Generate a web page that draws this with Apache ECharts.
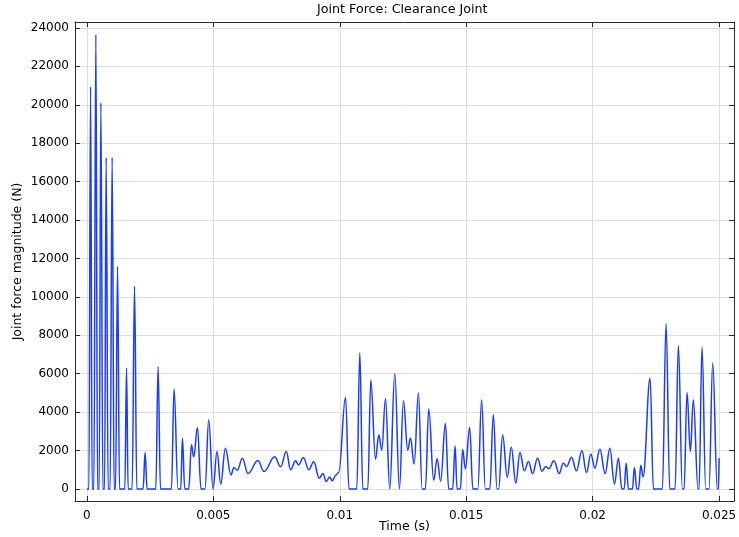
<!DOCTYPE html>
<html>
<head>
<meta charset="utf-8">
<script src="https://cdn.jsdelivr.net/npm/echarts@6/dist/echarts.min.js"></script>
<style>
  html, body { margin: 0; padding: 0; background: #fff; }
  #chart { width: 739px; height: 537px; }
</style>
</head>
<body>
<div id="chart"></div>
<script>
// time (s) of each read-off point
const timeS = [
  0, 0.000079, 0.000146, 0.000209, 0.000276, 0.000355, 0.000423, 0.000486, 0.000553, 0.000632,
  0.000699, 0.000762, 0.000841, 0.000920, 0.000999, 0.001078, 0.001133, 0.001212, 0.001291, 0.001501,
  0.001568, 0.001631, 0.001789, 0.001884, 0.001975, 0.002223, 0.002302, 0.002381, 0.002725, 0.002816,
  0.002910, 0.003345, 0.003447, 0.003605, 0.003712, 0.003779, 0.003870, 0.004028, 0.004135, 0.004225,
  0.004372, 0.004514, 0.004672, 0.004818, 0.004988, 0.005146, 0.005292, 0.005477, 0.005698, 0.005817,
  0.005951, 0.006149, 0.006370, 0.006765, 0.007002, 0.007424, 0.007661, 0.007886, 0.008056, 0.008253,
  0.008372, 0.008561, 0.008775, 0.008972, 0.009189, 0.009332, 0.009466, 0.009596, 0.009703, 0.009853,
  0.009959, 0.010228, 0.010366, 0.010674, 0.010793, 0.010911, 0.011109, 0.011227, 0.011413, 0.011543,
  0.011661, 0.011808, 0.011977, 0.012175, 0.012360, 0.012518, 0.012688, 0.012795, 0.012941, 0.013111,
  0.013257, 0.013387, 0.013517, 0.013715, 0.013849, 0.013991, 0.014177, 0.014307, 0.014465, 0.014560,
  0.014639, 0.014769, 0.014860, 0.014967, 0.015137, 0.015263, 0.015460, 0.015610, 0.015756, 0.015934,
  0.016072, 0.016219, 0.016282, 0.016440, 0.016625, 0.016783, 0.016961, 0.017127, 0.017297, 0.017466,
  0.017624, 0.017822, 0.017996, 0.018146, 0.018264, 0.018473, 0.018679, 0.018837, 0.018975, 0.019161,
  0.019362, 0.019575, 0.019757, 0.019931, 0.020089, 0.020286, 0.020495, 0.020681, 0.020863, 0.021020,
  0.021155, 0.021246, 0.021325, 0.021416, 0.021573, 0.021652, 0.021747, 0.021818, 0.021905, 0.021996,
  0.022272, 0.022403, 0.022758, 0.022904, 0.023050, 0.023260, 0.023390, 0.023548, 0.023615, 0.023733,
  0.023864, 0.023982, 0.024168, 0.024207, 0.024326, 0.024472, 0.024602, 0.024748, 0.024930, 0.024970,
  0.025
];

// joint force magnitude (N)
const forceN = [
  0, 0, 20950, 0, 0, 23650, 0, 0, 20100, 0,
  0, 17250, 0, 0, 17250, 0, 0, 11580, 0, 0,
  6300, 0, 0, 10550, 0, 0, 1900, 0, 0, 6360,
  0, 0, 5220, 0, 0, 2645, 0, 0, 2295, 1670,
  3200, 0, 0, 3600, 0, 1950, 245, 2120, 730, 1110,
  975, 1600, 800, 1480, 900, 1670, 1150, 1950, 1000, 1460,
  1250, 1630, 1000, 1410, 560, 800, 380, 620, 420, 730,
  870, 4760, 0, 0, 7080, 0, 0, 5670, 1550, 2800,
  2020, 4710, 0, 6015, 0, 4590, 2020, 2645, 1290, 4990,
  0, 0, 4160, 450, 1570, 400, 3410, 0, 0, 2230,
  0, 0, 2050, 1050, 3200, 0, 0, 4645, 0, 0,
  3860, 0, 0, 2800, 600, 2170, 300, 1895, 940, 1430,
  800, 1600, 920, 1165, 1050, 1460, 800, 1340, 1165, 1650,
  940, 2000, 850, 1810, 1080, 2070, 800, 2120, 245, 1600,
  0, 0, 1340, 0, 0, 1110, 0, 0, 1235, 625,
  5755, 0, 0, 8600, 0, 0, 7460, 0, 0, 5025,
  1950, 4640, 0, 0, 7370, 0, 0, 6555, 0, 0,
  1600
];

const xRange = [-0.00047, 0.02559];
const yRange = [-630, 24310];
const xStep = 0.005;
const yStep = 2000;

const chart = echarts.init(document.getElementById('chart'));

const fontFamily = 'DejaVu Sans';
const frameColor = '#2b2b2b';
const gridColor = '#dedede';

// hide the labels ECharts puts on the padded axis ends
function xLabel(v) {
  const k = v / xStep;
  if (Math.abs(k - Math.round(k)) > 1e-6) return '';
  return String(+v.toFixed(4));
}
function yLabel(v) {
  if (Math.abs(v / yStep - Math.round(v / yStep)) > 1e-6) return '';
  return String(Math.round(v));
}

const baseAxis = {
  type: 'value',
  axisLine: { show: true, onZero: false, lineStyle: { color: frameColor, width: 1 } },
  axisTick: { show: true, inside: true, length: 5, lineStyle: { color: frameColor } },
  splitLine: { show: false }
};

chart.setOption({
  animation: false,
  backgroundColor: '#fff',
  title: {
    text: 'Joint Force: Clearance Joint',
    left: 317,
    top: 3,
    padding: 0,
    textStyle: { fontFamily, fontSize: 12.7, fontWeight: 'normal', color: '#000' }
  },
  grid: { left: 75, right: 5, top: 22, bottom: 36, containLabel: false, outerBoundsMode: 'none' },
  xAxis: [
    Object.assign({}, baseAxis, {
      position: 'bottom',
      min: xRange[0], max: xRange[1], splitNumber: 5,
      name: 'Time (s)', nameLocation: 'middle', nameGap: 19, nameMoveOverlap: false,
      nameTextStyle: { fontFamily, fontSize: 12.5, color: '#000' },
      axisLabel: { show: true, formatter: xLabel, color: '#000', fontFamily, fontSize: 12, margin: 9 },
      splitLine: { show: true, lineStyle: { color: gridColor, width: 1 } }
    }),
    Object.assign({}, baseAxis, {
      position: 'top',
      min: xRange[0], max: xRange[1], splitNumber: 5,
      axisLabel: { show: false }
    })
  ],
  yAxis: [
    Object.assign({}, baseAxis, {
      position: 'left',
      min: yRange[0], max: yRange[1], splitNumber: 12,
      name: 'Joint force magnitude (N)', nameLocation: 'middle', nameGap: 51, nameMoveOverlap: false,
      nameTextStyle: { fontFamily, fontSize: 12.5, color: '#000' },
      axisLabel: { show: true, formatter: yLabel, color: '#000', fontFamily, fontSize: 12, margin: 6 },
      splitLine: { show: true, lineStyle: { color: gridColor, width: 1 } }
    }),
    Object.assign({}, baseAxis, {
      position: 'right',
      min: yRange[0], max: yRange[1], splitNumber: 12,
      axisLabel: { show: false }
    })
  ],
  series: [{
    type: 'line',
    xAxisIndex: 0,
    yAxisIndex: 0,
    data: timeS.map((t, i) => [t, forceN[i]]),
    showSymbol: false,
    smooth: 0.4,
    smoothMonotone: 'x',
    lineStyle: { color: '#1a3cff', width: 1.5 },
    itemStyle: { color: '#1a3cff' }
  }]
});
</script>
</body>
</html>
